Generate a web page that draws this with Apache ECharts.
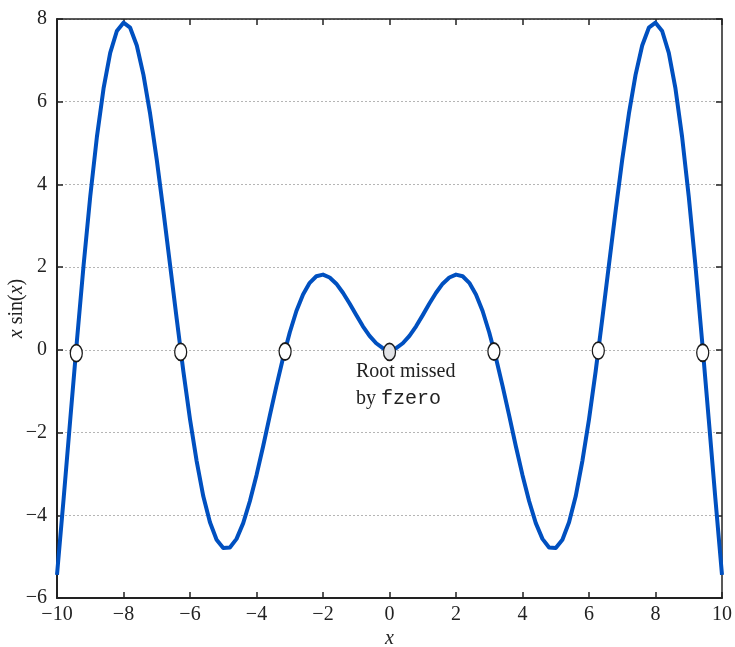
<!DOCTYPE html>
<html>
<head>
<meta charset="utf-8">
<script src="https://cdn.jsdelivr.net/npm/echarts@6/dist/echarts.min.js"></script>
<style>
  html, body { margin: 0; padding: 0; background: #fff; }
  #chart { width: 735px; height: 647px; }
</style>
</head>
<body>
<div id="chart"></div>
<script>
// Sampled curve of x·sin(x)
const xValues = [
  -10, -9.8, -9.6, -9.4, -9.2, -9, -8.8, -8.6, -8.4, -8.2,
  -8, -7.8, -7.6, -7.4, -7.2, -7, -6.8, -6.6, -6.4, -6.2,
  -6, -5.8, -5.6, -5.4, -5.2, -5, -4.8, -4.6, -4.4, -4.2,
  -4, -3.8, -3.6, -3.4, -3.2, -3, -2.8, -2.6, -2.4, -2.2,
  -2, -1.8, -1.6, -1.4, -1.2, -1, -0.8, -0.6, -0.4, -0.2,
  0, 0.2, 0.4, 0.6, 0.8, 1, 1.2, 1.4, 1.6, 1.8,
  2, 2.2, 2.4, 2.6, 2.8, 3, 3.2, 3.4, 3.6, 3.8,
  4, 4.2, 4.4, 4.6, 4.8, 5, 5.2, 5.4, 5.6, 5.8,
  6, 6.2, 6.4, 6.6, 6.8, 7, 7.2, 7.4, 7.6, 7.8,
  8, 8.2, 8.4, 8.6, 8.8, 9, 9.2, 9.4, 9.6, 9.8, 10
];
const yValues = [
  -5.44, -3.59, -1.67, 0.23, 2.05, 3.71, 5.15, 6.32, 7.18, 7.71,
  7.91, 7.79, 7.36, 6.65, 5.71, 4.60, 3.36, 2.06, 0.75, -0.52,
  -1.68, -2.69, -3.54, -4.17, -4.59, -4.79, -4.78, -4.57, -4.19, -3.66,
  -3.03, -2.33, -1.59, -0.87, -0.19, 0.42, 0.94, 1.34, 1.62, 1.78,
  1.82, 1.75, 1.60, 1.38, 1.12, 0.84, 0.57, 0.34, 0.16, 0.04,
  0,
  0.04, 0.16, 0.34, 0.57, 0.84, 1.12, 1.38, 1.60, 1.75, 1.82,
  1.78, 1.62, 1.34, 0.94, 0.42, -0.19, -0.87, -1.59, -2.33, -3.03,
  -3.66, -4.19, -4.57, -4.78, -4.79, -4.59, -4.17, -3.54, -2.69, -1.68,
  -0.52, 0.75, 2.06, 3.36, 4.60, 5.71, 6.65, 7.36, 7.79, 7.91,
  7.71, 7.18, 6.32, 5.15, 3.71, 2.05, 0.23, -1.67, -3.59, -5.44
];

// Roots returned by the solver
const rootX = [-9.42, -6.28, -3.14, 0, 3.14, 6.28, 9.42];
const rootY = [-0.08, -0.05, -0.04, -0.05, -0.04, -0.02, -0.07];

// Axis ranges and tick spacing
const xMin = -10, xMax = 10, xStep = 2;
const yMin = -6, yMax = 8, yStep = 2;

const serif = 'Liberation Serif';
const ink = '#222';
const minus = v => String(v).replace('-', '\u2212');

const curve = xValues.map((x, i) => [x, yValues[i]]);
const roots = rootX.map((x, i) => ({
  value: [x, rootY[i]],
  itemStyle: { color: x === 0 ? '#e2e3e6' : '#ffffff' }
}));

const chart = echarts.init(document.getElementById('chart'), null, { renderer: 'canvas' });

const tickStyle = { show: true, inside: true, length: 6, lineStyle: { color: ink, width: 1.5 } };

chart.setOption({
  animation: false,
  backgroundColor: '#ffffff',
  grid: { left: 57, right: 13, top: 19, bottom: 49, containLabel: false, outerBoundsMode: 'none' },
  xAxis: [
    {
      type: 'value', min: xMin, max: xMax, interval: xStep, position: 'bottom',
      name: '{i|x}', nameLocation: 'middle', nameGap: 31, nameMoveOverlap: false,
      nameTextStyle: { rich: { i: { fontFamily: serif, fontStyle: 'italic', fontSize: 20, color: ink } } },
      axisLine: { show: true, onZero: false, lineStyle: { color: ink, width: 2 } },
      axisTick: tickStyle,
      axisLabel: { fontFamily: serif, fontSize: 20, color: ink, margin: 7, formatter: minus },
      splitLine: { show: false }
    },
    {
      type: 'value', min: xMin, max: xMax, interval: xStep, position: 'top',
      axisLine: { show: true, onZero: false, lineStyle: { color: ink, width: 1.5 } },
      axisTick: tickStyle,
      axisLabel: { show: false },
      splitLine: { show: false }
    }
  ],
  yAxis: [
    {
      type: 'value', min: yMin, max: yMax, interval: yStep, position: 'left',
      name: '{i|x} sin({i|x})', nameLocation: 'middle', nameGap: 30, nameRotate: 90,
      nameMoveOverlap: false,
      nameTextStyle: {
        fontFamily: serif, fontSize: 20, color: ink,
        rich: { i: { fontFamily: serif, fontStyle: 'italic', fontSize: 20, color: ink } }
      },
      axisLine: { show: true, onZero: false, lineStyle: { color: ink, width: 2 } },
      axisTick: tickStyle,
      axisLabel: { fontFamily: serif, fontSize: 20, color: ink, margin: 10, formatter: minus },
      splitLine: { show: true, lineStyle: { color: '#b5b5b5', type: [2, 2], width: 1 } }
    },
    {
      type: 'value', min: yMin, max: yMax, interval: yStep, position: 'right',
      axisLine: { show: true, onZero: false, lineStyle: { color: ink, width: 1.5 } },
      axisTick: tickStyle,
      axisLabel: { show: false },
      splitLine: { show: false }
    }
  ],
  series: [
    {
      type: 'line', xAxisIndex: 0, yAxisIndex: 0,
      data: curve, showSymbol: false, smooth: false,
      lineStyle: { color: '#0050c0', width: 4, join: 'round' },
      z: 2
    },
    {
      type: 'scatter', xAxisIndex: 0, yAxisIndex: 0,
      data: roots, symbol: 'circle', symbolSize: [12, 17],
      itemStyle: { borderColor: '#1a1a1a', borderWidth: 1.5, opacity: 1 },
      z: 3
    }
  ],
  graphic: [
    {
      type: 'text', left: 356, top: 358,
      style: {
        text: 'Root missed\nby {m|fzero}',
        font: '20px "Liberation Serif"',
        fill: ink,
        lineHeight: 27,
        rich: { m: { fontFamily: 'Liberation Mono', fontSize: 20, fill: ink, lineHeight: 27 } }
      }
    }
  ]
});
</script>
</body>
</html>
